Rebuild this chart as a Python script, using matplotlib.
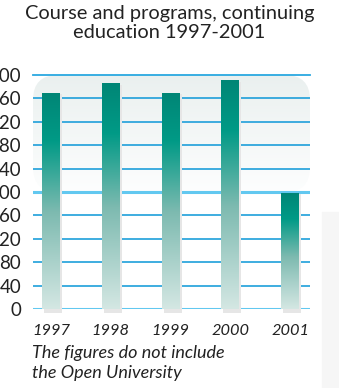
import matplotlib
matplotlib.use('Agg')
import matplotlib.pyplot as plt
import numpy as np
from matplotlib.colors import LinearSegmentedColormap
from matplotlib.patches import FancyBboxPatch, Rectangle


years = ['1997', '1998', '1999', '2000', '2001']
values = [369, 385, 369, 390, 198]
yticks = [0, 40, 80, 120, 160, 200, 240, 280, 320, 360, 400]

plt.rcParams['font.family'] = ['Lato', 'DejaVu Sans']

W, H = 339, 388
fig = plt.figure(figsize=(W / 100, H / 100), dpi=100)
fig.patch.set_facecolor('white')

# faint grey shape bottom right
fig.patches.append(Rectangle((322 / W, 0), 17 / W, 1 - 212 / H,
                             transform=fig.transFigure, color='#f6f6f6',
                             zorder=0))

ax = fig.add_axes([33 / W, 1 - 309 / H, 277 / W, 234 / H])
ax.set_facecolor('none')
for s in ax.spines.values():
    s.set_visible(False)

# rounded background panel with vertical gradient
aspect = (277 / 234)
panel = FancyBboxPatch((0, 0.5), 1, 0.5, transform=ax.transAxes,
                       boxstyle='round,pad=0,rounding_size=0.09',
                       mutation_aspect=aspect, facecolor='none',
                       edgecolor='none')
ax.add_patch(panel)
grad = np.linspace(0, 1, 256).reshape(-1, 1)
bg_cmap = LinearSegmentedColormap.from_list('bg', ['#fdfefe', '#eaf0ef'])
bg = ax.imshow(grad, cmap=bg_cmap, origin='lower', aspect='auto',
               extent=[-0.3, 4.33, 200, 400], zorder=0.5)
bg.set_clip_path(panel)

# gridlines
for t in yticks:
    if t == 400:
        ln = ax.axhline(t, color='#2aa8e0', lw=1.3, zorder=1, clip_on=False)
        ln.set_clip_path(panel)
    elif t in (0, 200):
        ax.axhline(t, color='#62c8f0', lw=2.2, zorder=1)
    else:
        ax.axhline(t, color='#1e9fda', lw=1.2, zorder=1)

# bars with gradient and soft shadow
bar_cmap = LinearSegmentedColormap.from_list(
    'bar', [(0, '#d4e7e3'), (0.45, '#7dbab0'), (0.78, '#009a86'),
            (1.0, '#008676')])
x = np.arange(len(years))
w = 0.3
dx = 2 / 59.8
for xi, v in zip(x, values):
    ax.add_patch(Rectangle((xi - w / 2 + dx, -6), w, v + 4,
                           facecolor='#e6e6e6', edgecolor='none',
                           zorder=1.5, clip_on=False))
    ax.imshow(grad, cmap=bar_cmap, origin='lower', aspect='auto',
              extent=[xi - w / 2, xi + w / 2, 0, v], zorder=2)

ax.set_xlim(-0.3, 4.33)
ax.set_ylim(0, 400)

ax.set_yticks(yticks)
ax.set_yticklabels([str(t) for t in yticks], fontsize=13.5, color='#222222')
ax.set_xticks(x)
ax.set_xticklabels(years, fontsize=11.8, style='italic', color='#222222')
ax.tick_params(axis='y', length=0, pad=8.6)
ax.tick_params(axis='x', length=0, pad=10.5)

fig.text(0.5, 1 - 5 / H, 'Course and programs, continuing\neducation 1997-2001',
         ha='center', va='top', fontsize=14.4, color='#222222', linespacing=1.12)
fig.text(32 / W, 1 - 345 / H, 'The figures do not include\nthe Open University',
         ha='left', va='top', fontsize=13, style='italic', color='#222222',
         linespacing=1.3)

fig.savefig('out.png', dpi=100)
